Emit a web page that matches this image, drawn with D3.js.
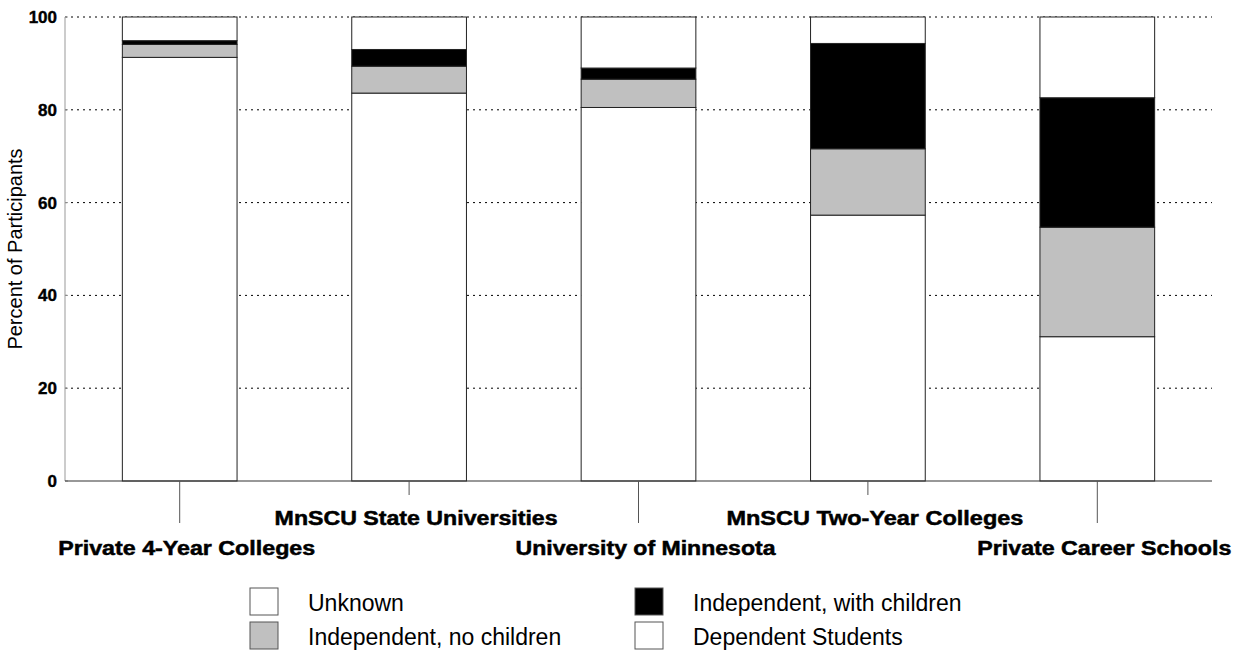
<!DOCTYPE html>
<html><head><meta charset="utf-8">
<script src="https://cdn.jsdelivr.net/npm/d3@7"></script>
<style>body{margin:0;background:#fff;} svg{display:block;font-family:"Liberation Sans",Arial,sans-serif;}</style>
</head><body>
<svg id="c" width="1244" height="654"></svg>
<script>
const categories = ["Private 4-Year Colleges","MnSCU State Universities","University of Minnesota","MnSCU Two-Year Colleges","Private Career Schools"];
const dependent = [91.3, 83.6, 80.5, 57.3, 31.1];
const indepNoChildren = [2.8, 5.8, 6.1, 14.3, 23.6];
const indepWithChildren = [0.8, 3.6, 2.4, 22.7, 27.9];
const unknown = [5.1, 7.0, 11.0, 5.7, 17.4];
const yTicks = [0, 20, 40, 60, 80, 100];
const seriesNames = ["Dependent Students","Independent, no children","Independent, with children","Unknown"];
const seriesColors = ["#ffffff","#c0c0c0","#000000","#ffffff"];

const svg = d3.select("#c");
const m = {l:65, r:32, t:17, b:173};
const W = 1244, H = 654;
const x = d3.scaleBand().domain(categories).range([m.l, W - m.r]).paddingInner(0.5).paddingOuter(0.25);
const y = d3.scaleLinear().domain([0,100]).range([H - m.b, m.t]);

const rows = categories.map((c,i)=>({cat:c, "Dependent Students":dependent[i], "Independent, no children":indepNoChildren[i], "Independent, with children":indepWithChildren[i], "Unknown":unknown[i]}));
const stack = d3.stack().keys(seriesNames)(rows);

// gridlines
svg.append("g").selectAll("line").data(yTicks.filter(d=>d>0)).join("line")
  .attr("x1", m.l).attr("x2", W - m.r)
  .attr("y1", d=>y(d)).attr("y2", d=>y(d))
  .attr("stroke","#000").attr("stroke-width",1).attr("stroke-dasharray","2,4");

// y axis line with small inward ticks
svg.append("line").attr("x1", m.l).attr("x2", m.l).attr("y1", y(0)).attr("y2", y(100)).attr("stroke","#999").attr("stroke-width",1);
svg.append("g").selectAll("line").data(yTicks).join("line")
  .attr("x1", m.l).attr("x2", m.l + 3).attr("y1", d=>y(d)).attr("y2", d=>y(d)).attr("stroke","#999");

// bars
stack.forEach((s,si)=>{
  svg.append("g").selectAll("rect").data(s).join("rect")
    .attr("x", d=>x(d.data.cat)).attr("width", x.bandwidth())
    .attr("y", d=>y(d[1])).attr("height", d=>y(d[0]) - y(d[1]))
    .attr("fill", seriesColors[si]).attr("stroke","#222").attr("stroke-width",1);
});

// x axis line
svg.append("line").attr("x1", m.l).attr("x2", W - m.r).attr("y1", y(0)).attr("y2", y(0)).attr("stroke","#333").attr("stroke-width",1.2);

// category ticks & labels (staggered)
const labelWidths = [257, 283, 260, 297, 254];
categories.forEach((c,i)=>{
  const cx = x(c) + x.bandwidth()/2;
  const longT = i % 2 === 0;
  svg.append("line").attr("x1",cx).attr("x2",cx).attr("y1",y(0)).attr("y2", y(0) + (longT ? 42 : 14)).attr("stroke","#555");
  svg.append("text").attr("x",cx + 7).attr("y", longT ? 555 : 525).attr("text-anchor","middle")
    .attr("font-weight","bold").attr("font-size",20)
    .attr("stroke","#000").attr("stroke-width",0.5)
    .attr("textLength", labelWidths[i]).attr("lengthAdjust","spacingAndGlyphs").text(c);
});

// y tick labels
svg.append("g").selectAll("text").data(yTicks).join("text")
  .attr("x", 57).attr("y", d=>y(d)+6).attr("text-anchor","end")
  .attr("font-weight","bold").attr("font-size",17).attr("stroke","#000").attr("stroke-width",0.4).text(d=>d);

svg.append("text").attr("transform",`translate(22,${(y(0)+y(100))/2}) rotate(-90)`)
  .attr("text-anchor","middle").attr("font-size",20).text("Percent of Participants");

// legend
const legend = [
  {name:"Unknown", color:"#ffffff", x:250, y:588},
  {name:"Independent, no children", color:"#c0c0c0", x:250, y:622},
  {name:"Independent, with children", color:"#000000", x:635, y:588},
  {name:"Dependent Students", color:"#ffffff", x:635, y:622}
];
const lg = svg.append("g").selectAll("g").data(legend).join("g");
lg.append("rect").attr("x",d=>d.x).attr("y",d=>d.y).attr("width",28).attr("height",27)
  .attr("fill",d=>d.color).attr("stroke","#555");
lg.append("text").attr("x",d=>d.x+58).attr("y",d=>d.y+23).attr("font-size",23).text(d=>d.name);
</script>
</body></html>
